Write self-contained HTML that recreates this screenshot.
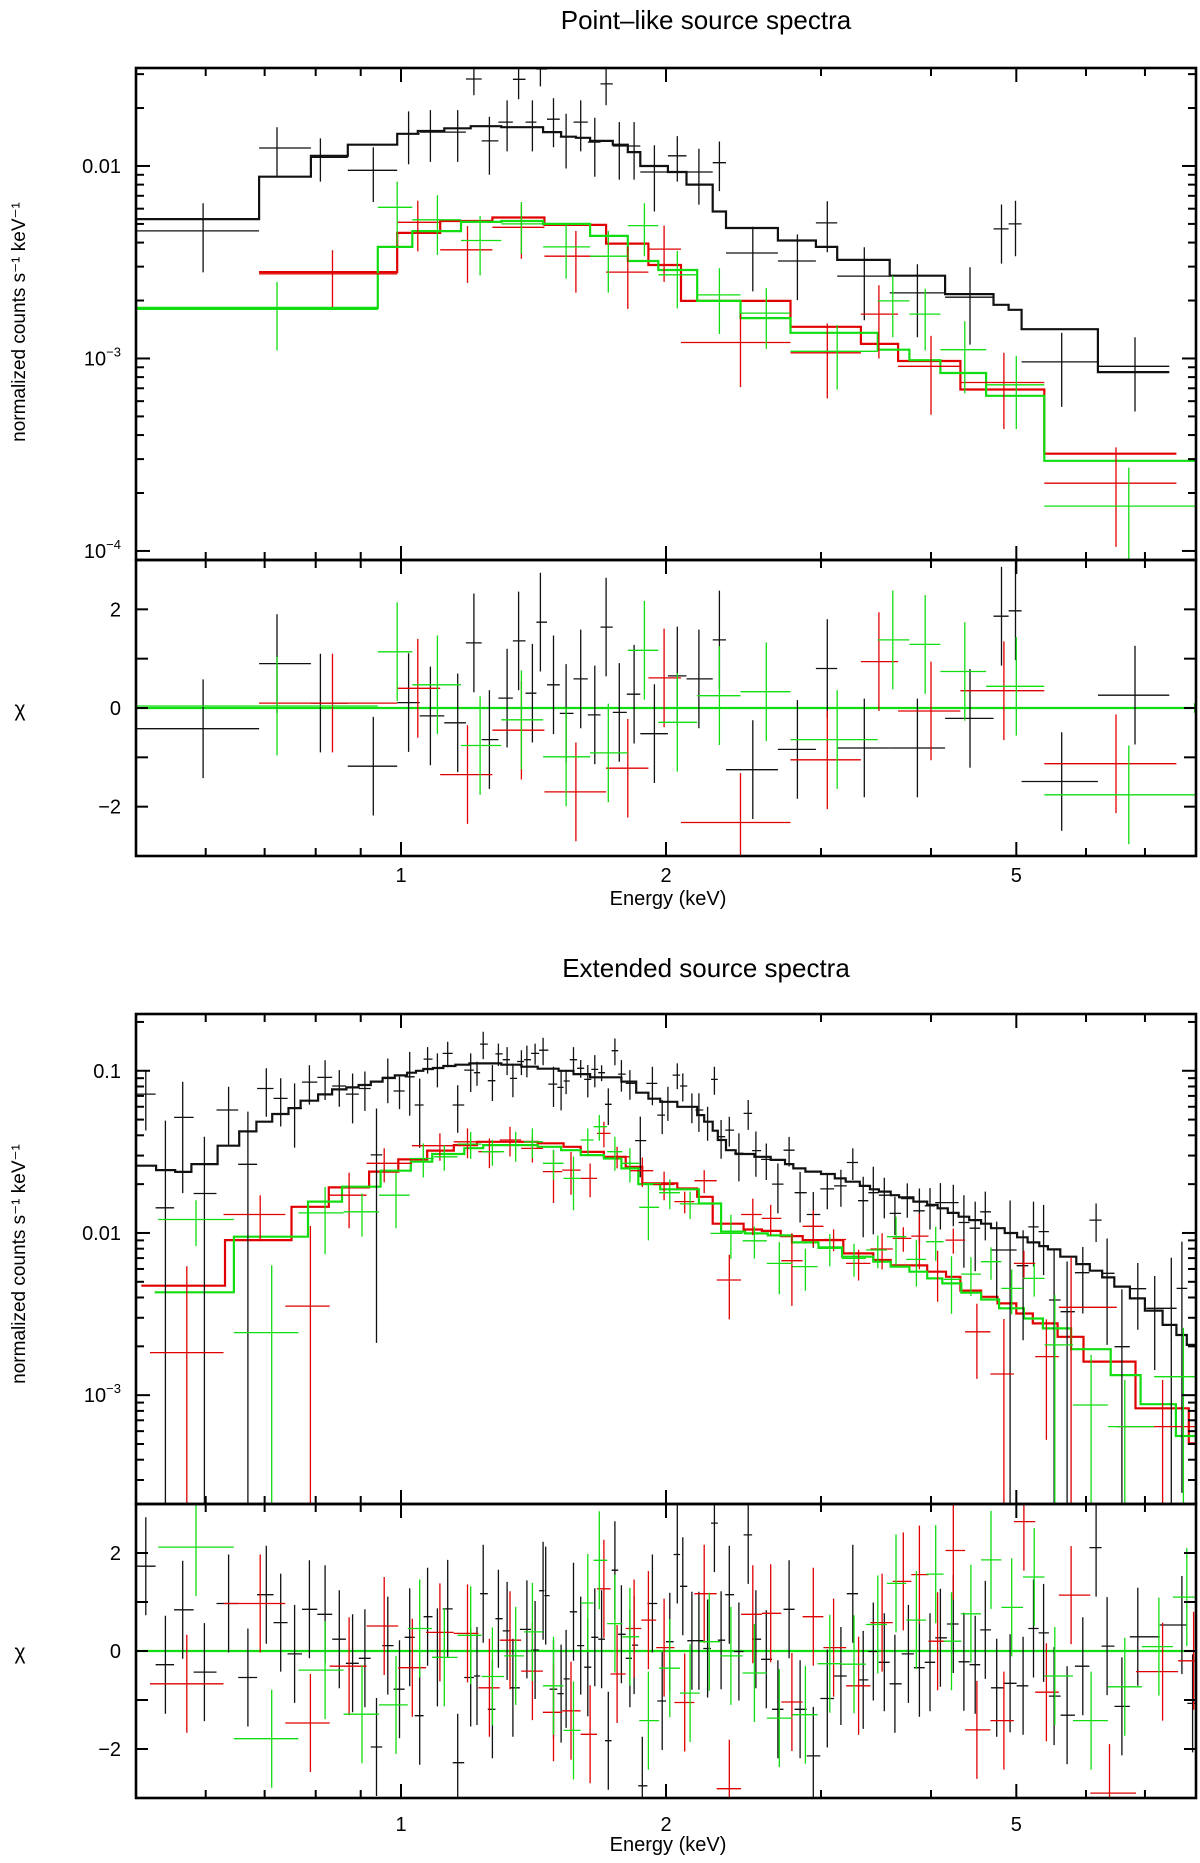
<!DOCTYPE html>
<html><head><meta charset="utf-8"><title>Point-like and extended source spectra</title>
<style>
html,body{margin:0;padding:0;background:#fff;}
svg{display:block;font-family:"Liberation Sans",Arial,sans-serif;}
</style></head>
<body>
<svg id="chart" width="1200" height="1863" viewBox="0 0 1200 1863" xmlns="http://www.w3.org/2000/svg">
<defs>
<clipPath id="clipTop"><rect x="136" y="68" width="1060" height="492"/></clipPath>
<clipPath id="clipTopRes"><rect x="136" y="560" width="1060" height="296"/></clipPath>
<clipPath id="clipBot"><rect x="136" y="1014" width="1060" height="490"/></clipPath>
<clipPath id="clipBotRes"><rect x="136" y="1504" width="1060" height="294"/></clipPath>
</defs>
<text x="706" y="29" font-size="26" text-anchor="middle">Point–like source spectra</text>
<text x="706" y="977" font-size="26" text-anchor="middle">Extended source spectra</text>
<text x="668" y="905" font-size="20" text-anchor="middle">Energy (keV)</text>
<text x="668" y="1851" font-size="20" text-anchor="middle">Energy (keV)</text>
<text transform="translate(25,322) rotate(-90)" font-size="19" text-anchor="middle">normalized counts s⁻¹ keV⁻¹</text>
<text transform="translate(25,1264) rotate(-90)" font-size="19" text-anchor="middle">normalized counts s⁻¹ keV⁻¹</text>
<text x="20" y="716" font-size="21" text-anchor="middle">χ</text>
<text x="20" y="1659" font-size="21" text-anchor="middle">χ</text>
<g id="layer"></g>
</svg>
<script>
// ---------- Axis tick data ----------
const xMajorTicks = [1, 2, 5];
const xMajorLabels = ["1", "2", "5"];
const xMinorTicks = [0.6, 0.7, 0.8, 0.9, 3, 4, 6, 7, 8];
const topYTicks = [0.01, 0.001, 0.0001];
const topYLabels = [["0.01",""], ["10","−3"], ["10","−4"]];
const botYTicks = [0.1, 0.01, 0.001];
const botYLabels = [["0.1",""], ["0.01",""], ["10","−3"]];
const resTicks = [2, 0, -2];
const resLabels = ["2", "0", "−2"];

// ---------- Point-like source: models ----------
const ptBlackModelEdges = [0.5,0.69,0.79,0.87,0.99,1.045,1.12,1.20,1.30,1.45,1.52,1.58,1.64,1.74,1.81,1.87,2.01,2.11,2.26,2.34,2.68,2.96,3.13,3.59,4.15,4.71,4.90,5.07,6.19,7.46];
const ptBlackModelVals = [0.0053,0.0088,0.0113,0.0129,0.0147,0.0152,0.0157,0.0161,0.0159,0.0150,0.0142,0.0140,0.0135,0.0129,0.0118,0.0100,0.0093,0.0080,0.0058,0.00476,0.0041,0.0038,0.00325,0.00269,0.00216,0.0019,0.00179,0.00142,0.00085];
const ptRedModelEdges = [0.69,0.99,1.108,1.27,1.455,1.71,1.91,2.08,2.77,3.33,3.67,4.32,5.38,7.60];
const ptRedModelVals = [0.00281,0.00449,0.00518,0.0054,0.00494,0.00395,0.00306,0.00199,0.00146,0.00119,0.00097,0.00069,0.00032];
const ptGreenModelEdges = [0.5,0.941,1.03,1.17,1.30,1.45,1.64,1.81,1.96,2.17,2.43,2.77,3.48,3.78,4.10,4.62,5.38,8.0];
const ptGreenModelVals = [0.00183,0.0038,0.00459,0.00512,0.00518,0.0050,0.00433,0.00321,0.00288,0.00199,0.00162,0.00136,0.00111,0.00098,0.00084,0.00064,0.000294];

// ---------- Point-like source: data ----------
const ptBlackEdges = [0.5,0.69,0.79,0.87,0.99,1.05,1.12,1.185,1.235,1.29,1.34,1.385,1.425,1.465,1.515,1.57,1.63,1.685,1.74,1.805,1.87,2.01,2.11,2.26,2.34,2.68,2.96,3.13,3.59,4.15,4.71,4.90,5.07,6.19,7.46];
const ptBlackE = [0.596,0.723,0.81,0.93,1.02,1.08,1.16,1.21,1.26,1.32,1.36,1.41,1.44,1.49,1.54,1.60,1.66,1.71,1.77,1.84,1.94,2.06,2.18,2.30,2.51,2.82,3.05,3.36,3.86,4.43,4.81,4.99,5.63,6.82];
const ptBlackVal = [0.0046,0.0124,0.0111,0.0095,0.0147,0.0150,0.0150,0.0283,0.0135,0.0169,0.0282,0.0169,0.0319,0.0175,0.0142,0.0169,0.0133,0.0267,0.0127,0.0127,0.0093,0.0113,0.0093,0.0104,0.00353,0.00321,0.00506,0.00268,0.00219,0.00208,0.00471,0.0050,0.00096,0.00091];
const ptBlackErr = [0.0018,0.0035,0.0028,0.0030,0.0045,0.0045,0.0045,0.005,0.0045,0.005,0.006,0.005,0.006,0.005,0.0045,0.005,0.0045,0.006,0.0042,0.0042,0.0035,0.0030,0.0030,0.0030,0.0013,0.0012,0.0015,0.0011,0.0009,0.0009,0.0016,0.0016,0.00040,0.00038];
const ptBlackChi = [-0.42,0.9,0.1,-1.18,0.11,-0.16,-0.3,1.32,-0.64,0.2,1.36,0.3,1.74,0.47,-0.11,0.59,-0.14,1.64,-0.09,0.28,-0.52,0.65,0.59,1.38,-1.25,-0.84,0.8,-0.81,-0.81,-0.21,1.86,1.97,-1.49,0.26];

const ptRedEdges = [0.69,0.99,1.108,1.27,1.455,1.71,1.91,2.08,2.77,3.33,3.67,4.32,5.38,7.60];
const ptRedE = [0.836,1.045,1.19,1.37,1.58,1.81,1.99,2.43,3.05,3.49,4.0,4.84,6.49];
const ptRedVal = [0.00275,0.0051,0.00367,0.0048,0.0034,0.00281,0.0037,0.00121,0.00107,0.0017,0.00091,0.00075,0.000225];
const ptRedErr = [0.0009,0.0015,0.0012,0.0015,0.0012,0.0010,0.0012,0.0005,0.00045,0.0007,0.0004,0.00032,0.00012];
const ptRedChi = [0.1,0.4,-1.35,-0.45,-1.7,-1.22,0.61,-2.32,-1.05,0.94,-0.06,0.35,-1.13];

const ptGreenEdges = [0.5,0.941,1.03,1.17,1.30,1.45,1.64,1.81,1.96,2.17,2.43,2.77,3.48,3.78,4.10,4.62,5.38,8.0];
const ptGreenE = [0.723,0.99,1.10,1.23,1.37,1.54,1.72,1.89,2.06,2.30,2.60,3.13,3.62,3.94,4.37,5.0,6.71];
const ptGreenVal = [0.0018,0.0061,0.00525,0.0041,0.0050,0.0038,0.0034,0.0049,0.00272,0.00214,0.00172,0.00109,0.00199,0.0017,0.00111,0.00073,0.000171];
const ptGreenErr = [0.0007,0.0022,0.0018,0.0014,0.0015,0.0012,0.0012,0.0015,0.0009,0.0008,0.0006,0.0004,0.0007,0.0006,0.00045,0.0003,0.0001];
const ptGreenChi = [0.04,1.14,0.47,-0.76,-0.24,-0.99,-0.91,1.17,-0.29,0.25,0.33,-0.64,1.38,1.29,0.74,0.44,-1.76];

// ---------- Extended source: models ----------
const exBlackModelEdges = [0.50,0.527,0.554,0.578,0.619,0.655,0.685,0.714,0.745,0.769,0.805,0.835,0.867,0.895,0.924,0.953,0.984,1.016,1.04,1.06,1.087,1.117,1.153,1.196,1.30,1.37,1.43,1.51,1.57,1.64,1.78,1.85,1.91,1.97,2.06,2.17,2.21,2.26,2.29,2.34,2.40,2.52,2.63,2.73,2.79,2.88,3.00,3.11,3.20,3.32,3.41,3.49,3.60,3.68,3.82,3.96,4.07,4.18,4.30,4.42,4.56,4.68,4.85,5.01,5.15,5.31,5.43,5.61,5.85,6.06,6.26,6.46,6.73,7.00,7.33,7.60,7.81,8.0];
const exBlackModelVals = [0.0260,0.0244,0.0238,0.0266,0.0345,0.0423,0.0485,0.0541,0.0589,0.0654,0.0715,0.0768,0.0790,0.0817,0.0857,0.0902,0.0937,0.0973,0.100,0.1026,0.104,0.107,0.109,0.111,0.109,0.106,0.103,0.100,0.0954,0.0911,0.0857,0.0732,0.0673,0.0644,0.060,0.0533,0.0485,0.0427,0.0374,0.0324,0.0307,0.0295,0.0282,0.0266,0.0250,0.0239,0.0231,0.0217,0.0207,0.0195,0.0186,0.0180,0.0171,0.0166,0.0156,0.0149,0.0142,0.0133,0.0126,0.0120,0.0114,0.0107,0.0100,0.0094,0.00875,0.0083,0.00792,0.00714,0.00643,0.00585,0.00532,0.00467,0.00395,0.00332,0.00271,0.00235,0.00204];
const exRedModelEdges = [0.507,0.631,0.751,0.828,0.920,0.993,1.071,1.148,1.22,1.43,1.53,1.60,1.70,1.80,1.88,2.06,2.17,2.26,2.45,2.57,2.70,2.86,3.18,3.44,3.60,3.96,4.16,4.32,4.56,4.76,5.00,5.22,5.57,5.96,6.83,7.85,8.0];
const exRedModelVals = [0.00473,0.00904,0.0145,0.0191,0.0239,0.0284,0.0322,0.0348,0.0365,0.0357,0.0340,0.0316,0.0295,0.0256,0.0202,0.0188,0.0167,0.0114,0.0105,0.0103,0.00957,0.00904,0.00748,0.00681,0.00631,0.00577,0.00537,0.00441,0.00404,0.00368,0.00319,0.00277,0.00229,0.00161,0.00083,0.000504];
const exGreenModelEdges = [0.525,0.646,0.784,0.857,0.948,1.026,1.085,1.18,1.24,1.43,1.52,1.60,1.70,1.78,1.86,1.97,2.18,2.31,2.46,2.61,2.78,2.98,3.17,3.44,3.60,3.78,3.96,4.12,4.33,4.56,4.78,5.10,5.36,5.77,6.40,6.92,7.59,8.0];
const exGreenModelVals = [0.00431,0.00948,0.0156,0.0193,0.0242,0.0275,0.0307,0.0333,0.0348,0.0340,0.0324,0.0302,0.0288,0.0250,0.0200,0.0186,0.0152,0.0102,0.00994,0.00966,0.00875,0.00815,0.00714,0.00665,0.00620,0.00577,0.00525,0.00489,0.00428,0.00389,0.00343,0.00297,0.00258,0.00192,0.00133,0.00088,0.00056];

// ---------- Extended source: data ----------
const exBlackE = [0.513,0.540,0.565,0.598,0.637,0.670,0.703,0.730,0.757,0.787,0.820,0.851,0.881,0.910,0.938,0.966,0.996,1.023,1.050,1.072,1.10,1.13,1.16,1.20,1.22,1.24,1.27,1.29,1.32,1.34,1.37,1.39,1.42,1.45,1.49,1.52,1.54,1.57,1.60,1.63,1.66,1.69,1.72,1.75,1.78,1.82,1.87,1.93,1.98,2.01,2.06,2.09,2.14,2.18,2.23,2.27,2.31,2.36,2.42,2.48,2.53,2.60,2.68,2.76,2.84,2.94,3.05,3.16,3.26,3.35,3.44,3.54,3.64,3.76,3.88,3.99,4.10,4.24,4.36,4.49,4.61,4.75,4.92,5.09,5.23,5.37,5.52,5.71,5.95,6.16,6.34,6.59,6.87,7.18,7.50,7.71];
const exBlackVal = [0.0718,0.0143,0.0516,0.0175,0.0573,0.0265,0.0778,0.0676,0.0586,0.0851,0.0910,0.0805,0.0718,0.0778,0.0303,0.0910,0.0750,0.0918,0.0615,0.118,0.1035,0.128,0.0615,0.101,0.0973,0.146,0.0868,0.127,0.117,0.0897,0.114,0.117,0.128,0.134,0.0828,0.0790,0.0865,0.117,0.1035,0.0885,0.102,0.0973,0.0621,0.133,0.0954,0.0836,0.0371,0.0836,0.0533,0.0644,0.0941,0.0805,0.060,0.0573,0.0485,0.0885,0.0392,0.0431,0.031,0.0546,0.0322,0.0284,0.0200,0.0324,0.0177,0.0130,0.0187,0.0195,0.0272,0.0158,0.0177,0.0171,0.0132,0.0163,0.0137,0.0147,0.0154,0.0154,0.0116,0.0107,0.0135,0.00785,0.00785,0.00628,0.0109,0.0102,0.00386,0.00327,0.00569,0.0120,0.00564,0.00199,0.00453,0.00343,0.00343,0.00455];
const exBlackErr = [0.029,0.035,0.034,0.0217,0.0224,0.0295,0.0257,0.0223,0.025,0.0232,0.025,0.0205,0.0244,0.0212,0.0282,0.028,0.017,0.039,0.028,0.022,0.0245,0.023,0.020,0.027,0.0165,0.028,0.0217,0.020,0.023,0.021,0.020,0.026,0.019,0.026,0.023,0.022,0.0147,0.023,0.013,0.020,0.023,0.011,0.0158,0.025,0.021,0.0174,0.0151,0.0223,0.0126,0.0153,0.017,0.0159,0.0125,0.0153,0.0115,0.0174,0.0105,0.009,0.0102,0.0114,0.010,0.0072,0.0068,0.0067,0.0061,0.0049,0.0047,0.0050,0.0060,0.0064,0.0079,0.0048,0.0035,0.0039,0.0051,0.0042,0.0049,0.0044,0.0055,0.0049,0.0045,0.0039,0.0080,0.0041,0.0047,0.0047,0.0040,0.0034,0.0025,0.0032,0.0036,0.0025,0.0020,0.0020,0.0036,0.0043];
const exRedE = [0.571,0.692,0.789,0.873,0.957,1.107,1.19,1.26,1.33,1.41,1.49,1.56,1.64,1.70,1.76,1.88,1.99,2.10,2.21,2.36,2.51,2.63,2.78,2.94,3.10,3.31,3.52,3.72,3.88,4.07,4.24,4.51,4.84,5.10,5.41,5.77,7.33];
const exRedVal = [0.00183,0.0130,0.00354,0.0171,0.0269,0.0345,0.0365,0.0317,0.0374,0.0332,0.0239,0.0244,0.0217,0.0411,0.0295,0.0242,0.0199,0.0156,0.0210,0.00513,0.0130,0.0123,0.00675,0.0110,0.00912,0.00649,0.00796,0.00926,0.00957,0.00577,0.00904,0.00246,0.00135,0.00649,0.00173,0.00348,0.00064];
const exRedErr = [0.0044,0.0041,0.0075,0.0064,0.0064,0.0066,0.0076,0.0066,0.0078,0.006,0.0086,0.0072,0.0051,0.0074,0.0045,0.005,0.004,0.0024,0.0034,0.0022,0.0033,0.0026,0.0032,0.0028,0.0014,0.0014,0.002,0.0016,0.0036,0.0020,0.0016,0.0012,0.0016,0.0013,0.0012,0.0036,0.0006];
const exGreenE = [0.585,0.713,0.820,0.903,0.987,1.06,1.12,1.20,1.27,1.35,1.41,1.49,1.57,1.63,1.68,1.75,1.82,1.91,2.02,2.13,2.37,2.52,2.69,2.88,3.07,3.27,3.48,3.65,3.85,4.05,4.22,4.44,4.68,4.94,5.24,5.53,6.08,6.64,7.74];
const exGreenVal = [0.0121,0.00243,0.0133,0.0135,0.0171,0.0288,0.0295,0.0353,0.0317,0.0348,0.0365,0.0269,0.0217,0.0374,0.0452,0.0317,0.0269,0.0144,0.0177,0.0151,0.00994,0.00895,0.00649,0.0062,0.00804,0.00697,0.00785,0.00948,0.00687,0.00883,0.00518,0.00558,0.00665,0.00455,0.00525,0.00204,0.00087,0.00064,0.0013];
const exGreenErr = [0.0038,0.0039,0.0059,0.004,0.0064,0.0068,0.0053,0.0067,0.0057,0.0073,0.0076,0.0056,0.0079,0.0067,0.0082,0.0075,0.0064,0.0054,0.0037,0.0029,0.0030,0.0020,0.0023,0.0018,0.0018,0.0016,0.0018,0.0031,0.0022,0.0021,0.0020,0.0015,0.0015,0.0014,0.0012,0.0021,0.0009,0.0006,0.0013];

// ---------- Extended source: residuals ----------
const exBlackResE = [0.513,0.540,0.565,0.598,0.637,0.670,0.703,0.730,0.757,0.787,0.820,0.851,0.881,0.910,0.938,0.966,0.996,1.023,1.050,1.072,1.10,1.13,1.16,1.20,1.22,1.24,1.27,1.29,1.32,1.34,1.39,1.42,1.45,1.46,1.49,1.52,1.54,1.57,1.60,1.63,1.66,1.69,1.72,1.75,1.78,1.82,1.84,1.88,1.93,1.98,2.02,2.06,2.09,2.14,2.18,2.23,2.27,2.31,2.36,2.42,2.48,2.53,2.60,2.68,2.76,2.84,2.94,3.05,3.16,3.26,3.35,3.44,3.54,3.64,3.77,3.88,3.99,4.10,4.24,4.36,4.49,4.61,4.75,4.92,5.09,5.23,5.37,5.52,5.71,5.95,6.16,6.34,6.59,6.87,7.71,7.93];
const exBlackChi = [1.73,-0.28,0.84,-0.43,0.97,-0.54,1.15,0.58,-0.06,0.85,0.75,0.24,-0.25,-0.15,-1.96,0.11,-0.78,0.28,-1.32,0.70,-0.13,0.86,-2.28,-0.54,-0.51,1.17,-1.19,0.66,0.41,-0.75,0.44,0.02,1.23,1.13,-0.78,-0.87,-0.57,0.80,0.11,-0.33,0.28,0.24,-1.83,1.65,0.34,-0.15,0.12,-2.75,0.97,-1.02,0.19,1.97,1.32,0.21,0.21,0.05,2.61,0.22,1.15,-0.01,2.37,0.24,-0.17,-1.19,0.85,-1.19,-2.14,-0.97,-0.51,1.17,-0.59,-0.01,-0.23,-0.67,-0.06,-0.34,-0.23,0.27,0.55,-0.22,-0.28,0.43,-0.75,-0.66,-0.71,0.46,0.37,-0.92,-1.31,-0.31,2.11,0.10,-1.13,0.29,0.53,-1.07];
const exRedResE = [0.571,0.692,0.789,0.873,0.957,1.03,1.107,1.19,1.26,1.33,1.41,1.49,1.56,1.64,1.70,1.76,1.84,1.91,1.99,2.10,2.21,2.36,2.51,2.63,2.78,2.94,3.10,3.31,3.52,3.72,3.88,4.07,4.24,4.51,4.84,5.10,5.41,5.77,6.38,7.33,7.95];
const exRedChi = [-0.67,0.97,-1.47,-0.31,0.51,-0.34,0.38,0.36,-0.75,0.22,-0.41,-1.25,-1.22,-1.70,1.27,-0.47,0.46,0.63,0.07,-1.05,1.17,-2.81,0.75,0.77,-1.04,0.70,0.07,-0.71,0.58,1.42,1.56,0.20,2.05,-1.61,-1.42,2.64,-0.84,1.14,-2.90,-0.42,-0.20];
const exGreenResE = [0.585,0.713,0.820,0.903,0.987,1.05,1.12,1.20,1.27,1.35,1.41,1.49,1.57,1.63,1.68,1.75,1.82,1.91,2.02,2.13,2.24,2.37,2.52,2.69,2.88,3.07,3.27,3.48,3.65,3.85,4.05,4.22,4.44,4.68,4.94,5.24,5.53,6.08,6.64,7.26,7.81];
const exGreenChi = [2.12,-1.79,-0.39,-1.29,-1.10,0.46,-0.13,0.32,-0.52,-0.10,0.39,-0.71,-1.62,0.98,1.85,0.56,0.29,-1.42,-0.35,-0.86,0.19,-0.10,-0.45,-1.37,-1.30,-0.26,-0.27,0.54,1.38,0.63,1.57,0.20,0.76,1.86,0.89,1.51,-0.51,-1.42,-0.73,0.09,1.10];

// ---------- Rendering ----------
const NS = "http://www.w3.org/2000/svg";
const layer = document.getElementById("layer");
const X0 = 136, X1 = 1196, EMIN = 0.5, EMAX = 8;
const COL = {black: "#111", red: "#e00000", green: "#11dd11"};
function xp(E) { return X0 + (Math.log10(E) - Math.log10(EMIN)) / (Math.log10(EMAX) - Math.log10(EMIN)) * (X1 - X0); }
const P = {
  top:    {y0: 68,   y1: 560,  lmin: -4.047, lmax: -1.491, clip: "clipTop"},
  topRes: {y0: 560,  y1: 856,  min: -3, max: 3, clip: "clipTopRes"},
  bot:    {y0: 1014, y1: 1504, lmin: -3.671, lmax: -0.650, clip: "clipBot"},
  botRes: {y0: 1504, y1: 1798, min: -3, max: 3, clip: "clipBotRes"}
};
function ylog(p, v) { return p.y1 - (Math.log10(v) - p.lmin) / (p.lmax - p.lmin) * (p.y1 - p.y0); }
function ylin(p, v) { return p.y1 - (v - p.min) / (p.max - p.min) * (p.y1 - p.y0); }

function mk(tag, attrs, parent) {
  const el = document.createElementNS(NS, tag);
  for (const k in attrs) el.setAttribute(k, attrs[k]);
  (parent || layer).appendChild(el);
  return el;
}
function group(p, name) {
  const g = mk("g", {"clip-path": "url(#" + p.clip + ")"});
  
  
  return g;
}
function midEdges(E) {
  const lo = [], hi = [];
  for (let i = 0; i < E.length; i++) {
    const l = i > 0 ? Math.sqrt(E[i - 1] * E[i]) : E[i] * E[i] / Math.sqrt(E[i] * E[i + 1]);
    const h = i < E.length - 1 ? Math.sqrt(E[i] * E[i + 1]) : E[i] * E[i] / Math.sqrt(E[i - 1] * E[i]);
    lo.push(Math.max(EMIN, l)); hi.push(Math.min(EMAX, h));
  }
  return [lo, hi];
}
function edgesToBins(edges) { return [edges.slice(0, -1), edges.slice(1)]; }

function drawModel(p, edges, vals, color, name, dropEnd) {
  const g = group(p, name + "-group");
  let d = "M" + xp(edges[0]).toFixed(1) + " " + ylog(p, vals[0]).toFixed(1);
  for (let i = 0; i < vals.length; i++) {
    if (i > 0) d += " V" + ylog(p, vals[i]).toFixed(1);
    d += " H" + xp(edges[i + 1]).toFixed(1);
  }
  if (dropEnd) d += " V" + p.y1;
  const path = mk("path", {d: d, fill: "none", stroke: color, "stroke-width": 2.2}, g);
  
  
}
function drawData(p, E, lo, hi, vals, errs, color, name) {
  const g = group(p, name + "-group");
  for (let i = 0; i < vals.length; i++) {
    const y = ylog(p, vals[i]);
    const yt = ylog(p, vals[i] + errs[i]);
    const lowV = vals[i] - errs[i];
    const yb = lowV > 0 ? ylog(p, lowV) : p.y1 + 5;
    const xc = xp(E[i]);
    const d = "M" + xp(lo[i]).toFixed(1) + " " + y.toFixed(1) + " H" + xp(hi[i]).toFixed(1) +
              " M" + xc.toFixed(1) + " " + yt.toFixed(1) + " V" + Math.min(yb, p.y1 + 5).toFixed(1);
    const c = mk("path", {d: d, fill: "none", stroke: color, "stroke-width": 1.3}, g);
    
    
  }
}
function drawRes(p, E, lo, hi, chi, color, name) {
  const g = group(p, name + "-group");
  for (let i = 0; i < chi.length; i++) {
    const y = ylin(p, chi[i]);
    const xc = xp(E[i]);
    const d = "M" + xp(lo[i]).toFixed(1) + " " + y.toFixed(1) + " H" + xp(hi[i]).toFixed(1) +
              " M" + xc.toFixed(1) + " " + ylin(p, chi[i] + 1).toFixed(1) + " V" + ylin(p, chi[i] - 1).toFixed(1);
    const c = mk("path", {d: d, fill: "none", stroke: color, "stroke-width": 1.3}, g);
    
    
  }
}
function zeroLine(p, name) {
  const l = mk("line", {x1: X0, x2: X1, y1: ylin(p, 0), y2: ylin(p, 0), stroke: COL.green, "stroke-width": 2.2});
  
  
}
function xTicks(p, name) {
  const g = mk("g", {stroke: "#000", "stroke-width": 2});
  
  
  xMajorTicks.forEach(function (t) {
    const x = xp(t);
    mk("line", {x1: x, x2: x, y1: p.y0, y2: p.y0 + 14}, g);
    mk("line", {x1: x, x2: x, y1: p.y1, y2: p.y1 - 14}, g);
  });
  xMinorTicks.forEach(function (t) {
    const x = xp(t);
    mk("line", {x1: x, x2: x, y1: p.y0, y2: p.y0 + 8}, g);
    mk("line", {x1: x, x2: x, y1: p.y1, y2: p.y1 - 8}, g);
  });
}
function logYTicks(p, ticks, labels, name) {
  const g = mk("g", {stroke: "#000", "stroke-width": 2});
  
  
  for (let d = Math.floor(p.lmin); d <= Math.ceil(p.lmax); d++) {
    for (let m = 1; m <= 9; m++) {
      const lv = d + Math.log10(m);
      if (lv < p.lmin || lv > p.lmax) continue;
      const y = ylog(p, Math.pow(10, lv));
      const len = m === 1 ? 14 : 8;
      mk("line", {x1: X0, x2: X0 + len, y1: y, y2: y}, g);
      mk("line", {x1: X1, x2: X1 - len, y1: y, y2: y}, g);
    }
  }
  ticks.forEach(function (t, i) {
    const y = ylog(p, t);
    const tx = mk("text", {x: 121, y: y + 7, "font-size": 20, "text-anchor": "end", stroke: "none", fill: "#000"});
    
    
    tx.textContent = labels[i][0];
    if (labels[i][1]) {
      const sp = document.createElementNS(NS, "tspan");
      sp.setAttribute("dy", "-9");
      sp.setAttribute("font-size", "13");
      sp.textContent = labels[i][1];
      tx.appendChild(sp);
    }
  });
}
function linYTicks(p, name) {
  const g = mk("g", {stroke: "#000", "stroke-width": 2});
  
  
  for (let v = -2; v <= 2; v++) {
    const y = ylin(p, v);
    mk("line", {x1: X0, x2: X0 + 12, y1: y, y2: y}, g);
    mk("line", {x1: X1, x2: X1 - 12, y1: y, y2: y}, g);
  }
  resTicks.forEach(function (t, i) {
    const tx = mk("text", {x: 121, y: ylin(p, t) + 7, "font-size": 20, "text-anchor": "end", stroke: "none", fill: "#000"});
    
    
    tx.textContent = resLabels[i];
  });
}
function xLabels(yBase, name) {
  xMajorTicks.forEach(function (t, i) {
    const tx = mk("text", {x: xp(t), y: yBase, "font-size": 20, "text-anchor": "middle"});
    
    
    tx.textContent = xMajorLabels[i];
  });
}
function frame(p, name) {
  const r = mk("rect", {x: X0, y: p.y0, width: X1 - X0, height: p.y1 - p.y0, fill: "none", stroke: "#000", "stroke-width": 2.6});
  
  
}

// --- Point-like panel ---
let b;
drawModel(P.top, ptBlackModelEdges, ptBlackModelVals, COL.black, "pt-black-model", false);
drawModel(P.top, ptRedModelEdges, ptRedModelVals, COL.red, "pt-red-model", false);
drawModel(P.top, ptGreenModelEdges, ptGreenModelVals, COL.green, "pt-green-model", true);
b = edgesToBins(ptBlackEdges); drawData(P.top, ptBlackE, b[0], b[1], ptBlackVal, ptBlackErr, COL.black, "pt-black-data");
b = edgesToBins(ptRedEdges); drawData(P.top, ptRedE, b[0], b[1], ptRedVal, ptRedErr, COL.red, "pt-red-data");
b = edgesToBins(ptGreenEdges); drawData(P.top, ptGreenE, b[0], b[1], ptGreenVal, ptGreenErr, COL.green, "pt-green-data");
zeroLine(P.topRes, "pt-zero-line");
b = edgesToBins(ptBlackEdges); drawRes(P.topRes, ptBlackE, b[0], b[1], ptBlackChi, COL.black, "pt-black-residual");
b = edgesToBins(ptRedEdges); drawRes(P.topRes, ptRedE, b[0], b[1], ptRedChi, COL.red, "pt-red-residual");
b = edgesToBins(ptGreenEdges); drawRes(P.topRes, ptGreenE, b[0], b[1], ptGreenChi, COL.green, "pt-green-residual");
const gEnd = mk("line", {x1: X1 - 1, x2: X1 - 1, y1: ylin(P.topRes, 0.1), y2: ylin(P.topRes, -0.1), stroke: COL.green, "stroke-width": 2});



// --- Extended panel ---
drawModel(P.bot, exBlackModelEdges, exBlackModelVals, COL.black, "ex-black-model", true);
drawModel(P.bot, exRedModelEdges, exRedModelVals, COL.red, "ex-red-model", true);
drawModel(P.bot, exGreenModelEdges, exGreenModelVals, COL.green, "ex-green-model", true);
b = midEdges(exBlackE); drawData(P.bot, exBlackE, b[0], b[1], exBlackVal, exBlackErr, COL.black, "ex-black-data");
b = midEdges(exRedE); drawData(P.bot, exRedE, b[0], b[1], exRedVal, exRedErr, COL.red, "ex-red-data");
b = midEdges(exGreenE); drawData(P.bot, exGreenE, b[0], b[1], exGreenVal, exGreenErr, COL.green, "ex-green-data");
zeroLine(P.botRes, "ex-zero-line");
b = midEdges(exBlackResE); drawRes(P.botRes, exBlackResE, b[0], b[1], exBlackChi, COL.black, "ex-black-residual");
b = midEdges(exRedResE); drawRes(P.botRes, exRedResE, b[0], b[1], exRedChi, COL.red, "ex-red-residual");
b = midEdges(exGreenResE); drawRes(P.botRes, exGreenResE, b[0], b[1], exGreenChi, COL.green, "ex-green-residual");

// --- Axes ---
[["top","pt-spectrum-frame"],["topRes","pt-residual-frame"],["bot","ex-spectrum-frame"],["botRes","ex-residual-frame"]].forEach(function (f) {
  xTicks(P[f[0]], f[1] + "-x-ticks");
  frame(P[f[0]], f[1]);
});
logYTicks(P.top, topYTicks, topYLabels, "pt-y-axis");
logYTicks(P.bot, botYTicks, botYLabels, "ex-y-axis");
linYTicks(P.topRes, "pt-residual-y-axis");
linYTicks(P.botRes, "ex-residual-y-axis");
xLabels(882, "pt-x-tick-label");
xLabels(1831, "ex-x-tick-label");
</script>
</body></html>
